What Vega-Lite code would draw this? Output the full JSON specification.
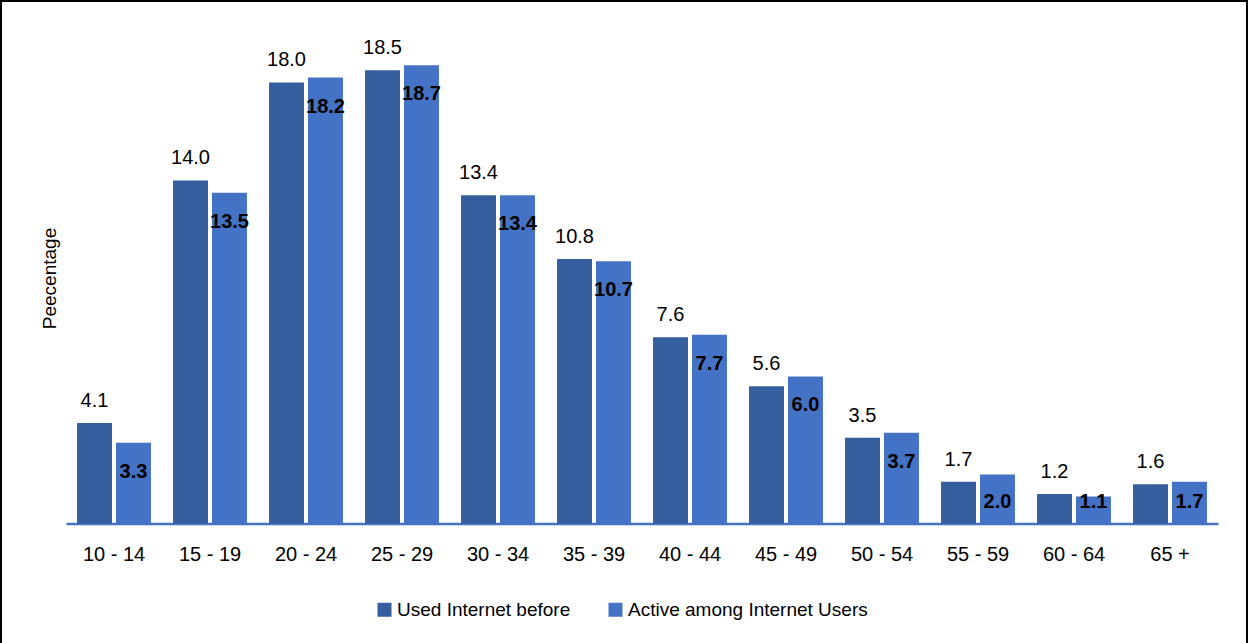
{
  "$schema": "https://vega.github.io/schema/vega-lite/v6.json",
  "autosize": "none",
  "padding": 0,
  "width": 1248,
  "height": 646,
  "background": "white",
  "config": {
    "view": {"stroke": "black", "strokeWidth": 4},
    "font": "Liberation Sans"
  },
  "data": {
    "values": [
      {"age": "10 - 14", "series": "Used Internet before", "pct": 4.1},
      {"age": "10 - 14", "series": "Active among Internet Users", "pct": 3.3},
      {"age": "15 - 19", "series": "Used Internet before", "pct": 14.0},
      {"age": "15 - 19", "series": "Active among Internet Users", "pct": 13.5},
      {"age": "20 - 24", "series": "Used Internet before", "pct": 18.0},
      {"age": "20 - 24", "series": "Active among Internet Users", "pct": 18.2},
      {"age": "25 - 29", "series": "Used Internet before", "pct": 18.5},
      {"age": "25 - 29", "series": "Active among Internet Users", "pct": 18.7},
      {"age": "30 - 34", "series": "Used Internet before", "pct": 13.4},
      {"age": "30 - 34", "series": "Active among Internet Users", "pct": 13.4},
      {"age": "35 - 39", "series": "Used Internet before", "pct": 10.8},
      {"age": "35 - 39", "series": "Active among Internet Users", "pct": 10.7},
      {"age": "40 - 44", "series": "Used Internet before", "pct": 7.6},
      {"age": "40 - 44", "series": "Active among Internet Users", "pct": 7.7},
      {"age": "45 - 49", "series": "Used Internet before", "pct": 5.6},
      {"age": "45 - 49", "series": "Active among Internet Users", "pct": 6.0},
      {"age": "50 - 54", "series": "Used Internet before", "pct": 3.5},
      {"age": "50 - 54", "series": "Active among Internet Users", "pct": 3.7},
      {"age": "55 - 59", "series": "Used Internet before", "pct": 1.7},
      {"age": "55 - 59", "series": "Active among Internet Users", "pct": 2.0},
      {"age": "60 - 64", "series": "Used Internet before", "pct": 1.2},
      {"age": "60 - 64", "series": "Active among Internet Users", "pct": 1.1},
      {"age": "65 +", "series": "Used Internet before", "pct": 1.6},
      {"age": "65 +", "series": "Active among Internet Users", "pct": 1.7}
    ]
  },
  "encoding": {
    "x": {
      "field": "age",
      "type": "nominal",
      "sort": null,
      "scale": {"range": [66, 1218], "paddingInner": 0.23, "paddingOuter": 0.115},
      "axis": {
        "title": null,
        "offset": -122.5,
        "domainColor": "#4472C4",
        "domainWidth": 2.5,
        "ticks": false,
        "tickSize": 0,
        "labelPadding": 21,
        "labelAngle": 0,
        "labelFont": "Liberation Sans",
        "labelFontSize": 20,
        "labelColor": "#000000",
        "grid": false
      }
    },
    "xOffset": {
      "field": "series",
      "type": "nominal",
      "sort": ["Used Internet before", "Active among Internet Users"],
      "scale": {"paddingInner": 0.1026, "paddingOuter": 0}
    },
    "y": {
      "field": "pct",
      "type": "quantitative",
      "scale": {"domain": [-5, 21.367], "nice": false, "zero": false},
      "axis": {
        "domain": false,
        "ticks": false,
        "labels": false,
        "grid": false,
        "title": "Peecentage",
        "titleFont": "Liberation Sans",
        "titleFontSize": 19,
        "titleFontWeight": "normal",
        "titleColor": "#000000",
        "titleAngle": 270,
        "titleAlign": "center",
        "titleBaseline": "alphabetic",
        "titleX": 55,
        "titleY": 278
      }
    }
  },
  "layer": [
    {
      "mark": {"type": "bar"},
      "encoding": {
        "y2": {"datum": 0},
        "color": {
          "field": "series",
          "type": "nominal",
          "scale": {
            "domain": ["Used Internet before", "Active among Internet Users"],
            "range": ["#355E9F", "#4472C4"]
          },
          "legend": {
            "title": null,
            "orient": "none",
            "direction": "horizontal",
            "legendX": 375,
            "legendY": 600,
            "padding": 0,
            "symbolType": "square",
            "symbolSize": 196,
            "symbolStrokeWidth": 0,
            "labelFont": "Liberation Sans",
            "labelFontSize": 19,
            "labelColor": "#000000",
            "labelOffset": 3,
            "labelLimit": 400,
            "columnPadding": 35
          }
        }
      }
    },
    {
      "transform": [{"filter": "datum.series === 'Used Internet before'"}],
      "mark": {"type": "text", "baseline": "alphabetic", "dy": -16, "fontSize": 20, "font": "Liberation Sans", "color": "#000000"},
      "encoding": {
        "text": {"field": "pct", "type": "quantitative", "format": ".1f"}
      }
    },
    {
      "transform": [{"filter": "datum.series === 'Active among Internet Users' && datum.pct > 2.1"}],
      "mark": {"type": "text", "baseline": "alphabetic", "dy": 35, "fontSize": 20, "fontWeight": "bold", "font": "Liberation Sans", "color": "#000000"},
      "encoding": {
        "text": {"field": "pct", "type": "quantitative", "format": ".1f"}
      }
    },
    {
      "transform": [{"filter": "datum.series === 'Active among Internet Users' && datum.pct <= 2.1"}],
      "mark": {"type": "text", "baseline": "alphabetic", "dy": -15, "fontSize": 20, "fontWeight": "bold", "font": "Liberation Sans", "color": "#000000"},
      "encoding": {
        "y": {"datum": 0},
        "text": {"field": "pct", "type": "quantitative", "format": ".1f"}
      }
    }
  ]
}
